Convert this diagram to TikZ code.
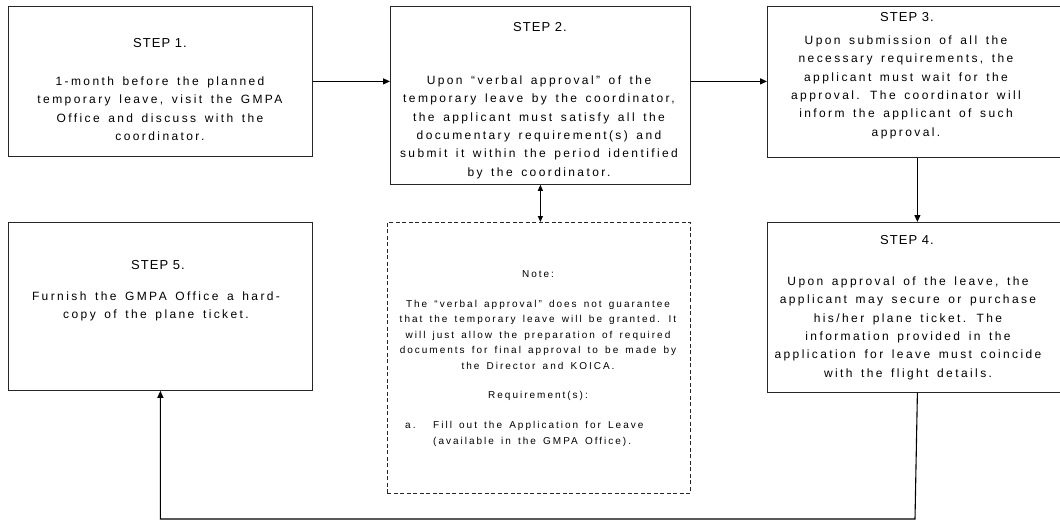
\documentclass[tikz,border=0pt]{standalone}
\usepackage{fontspec}
\setmainfont{Liberation Sans}
\newfontfamily\bodyfont{Liberation Sans}[LetterSpace=20,WordSpace=1.5]
\newfontfamily\titlefont{Liberation Sans}[LetterSpace=8]
\usetikzlibrary{arrows.meta}
\tikzset{
  box/.style={draw=black!85, line width=0.8pt, inner sep=0pt, anchor=north west, rectangle},
  notebox/.style={box, dash pattern=on 4pt off 2.5pt},
  steptitle/.style={inner sep=0pt, font=\titlefont\fontsize{13}{15}\selectfont},
  body/.style={inner sep=0pt, anchor=north, align=center, font=\bodyfont\fontsize{12}{18.3}\selectfont},
  notetext/.style={inner sep=0pt, anchor=north, align=center, font=\bodyfont\fontsize{10}{15.5}\selectfont},
  noteline/.style={inner sep=0pt, anchor=west, font=\bodyfont\fontsize{10}{15.5}\selectfont},
  arr/.style={-{Triangle[length=7pt,width=6pt]}, line width=1.1pt},
  dblarr/.style={{Triangle[length=6pt,width=5pt]}-{Triangle[length=6pt,width=5pt]}, line width=1.1pt}
}
\begin{document}
\begin{tikzpicture}[x=1pt,y=-1pt]
\useasboundingbox (0,0) rectangle (1060,524);
% boxes
\node[box, minimum width=304pt, minimum height=150pt] (b1) at (8,6) {};
\node[box, minimum width=300pt, minimum height=178pt] (b2) at (390,6) {};
\node[box, minimum width=300pt, minimum height=151pt] (b3) at (767,6) {};
\node[box, minimum width=300pt, minimum height=170pt] (b4) at (767,222) {};
\node[box, minimum width=304pt, minimum height=168pt] (b5) at (8,222) {};
\node[notebox, minimum width=303pt, minimum height=271pt] (note) at (387,222) {};
% titles
\node[steptitle] (t1) at (160,43) {STEP 1.};
\node[steptitle] (t2) at (540,27) {STEP 2.};
\node[steptitle] (t3) at (907,17) {STEP 3.};
\node[steptitle] (t4) at (907,240) {STEP 4.};
\node[steptitle] (t5) at (158,265) {STEP 5.};
% bodies
\node[body] (x1) at (160,76.8) {1-month before the planned\\temporary leave, visit the GMPA\\Office and discuss with the\\coordinator.};
\node[body] (x2) at (539,75.8) {Upon “verbal approval” of the\\temporary leave by the coordinator,\\the applicant must satisfy all the\\documentary requirement(s) and\\submit it within the period identified\\by the coordinator.};
\node[body] (x3) at (906,35.8) {Upon submission of all the\\necessary requirements, the\\applicant must wait for the\\approval. The coordinator will\\inform the applicant of such\\approval.};
\node[body] (x4) at (908,276.8) {Upon approval of the leave, the\\applicant may secure or purchase\\his/her plane ticket. The\\information provided in the\\application for leave must coincide\\with the flight details.};
\node[body] (x5) at (156,291.8) {Furnish the GMPA Office a hard-\\copy of the plane ticket.};
% note text
\node[notetext] (n0) at (538,270.7) {Note:};
\node[notetext] (n1) at (538,299.7) {The “verbal approval” does not guarantee\\that the temporary leave will be granted. It\\will just allow the preparation of required\\documents for final approval to be made by\\the Director and KOICA.};
\node[notetext] (n2) at (538,390.7) {Requirement(s):};
\node[noteline] (n3) at (405,426) {a.};
\node[noteline] (n4) at (433,426) {Fill out the Application for Leave};
\node[noteline] (n5) at (433,441.5) {(available in the GMPA Office).};
% connectors
\coordinate (bot) at (915,519);
\draw[arr] (b1.east) -- (b1.east -| b2.west);
\draw[arr] (b1.east -| b2.east) -- (b1.east -| b3.west);
\draw[arr] (b3.south) -- (b4.north);
\draw[dblarr] (b2.south) -- (b2.south |- note.north);
\draw[arr] (b4.south) -- (bot) -| (b5.south);
\end{tikzpicture}
\end{document}
